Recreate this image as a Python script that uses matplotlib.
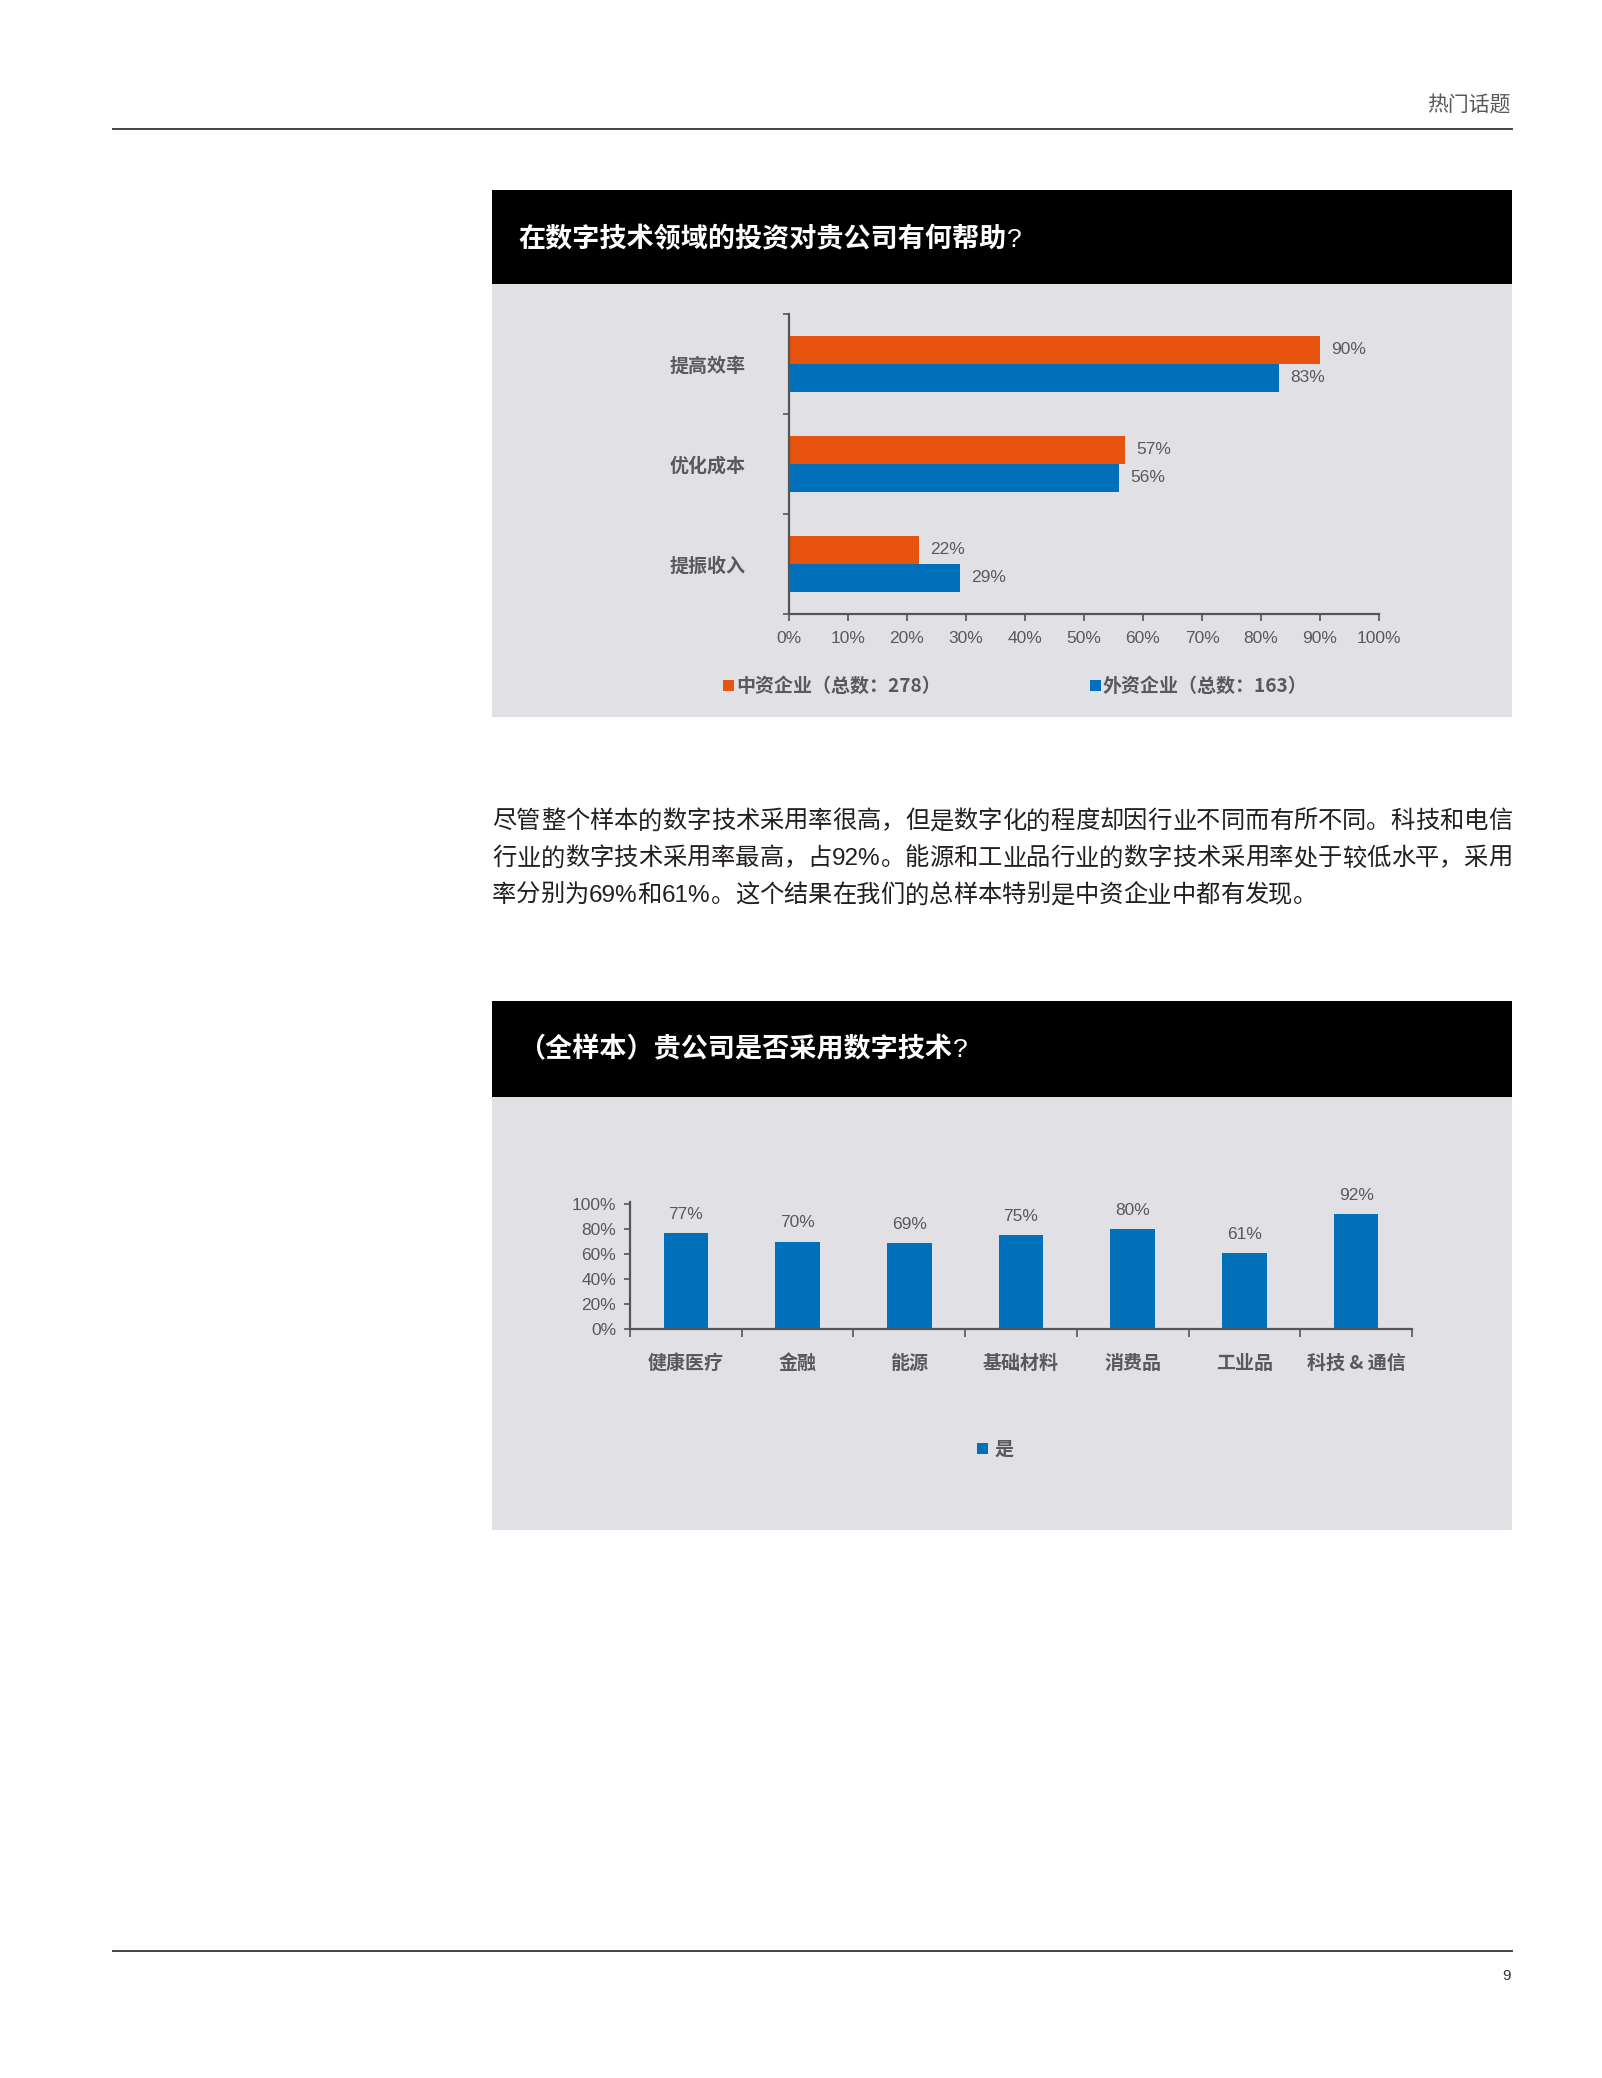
import re
import numpy as np
import matplotlib
matplotlib.use("Agg")
import matplotlib.pyplot as plt
from matplotlib.patches import Rectangle
from matplotlib import font_manager as fm

# chart 1: how digital investment helps
cats1 = ["提高效率", "优化成本", "提振收入"]
cn_vals = [90, 57, 22]
fx_vals = [83, 56, 29]
cn_label = "中资企业（总数：278）"
fx_label = "外资企业（总数：163）"
xticks1 = [0, 10, 20, 30, 40, 50, 60, 70, 80, 90, 100]

# chart 2: adoption by industry
cats2 = ["健康医疗", "金融", "能源", "基础材料", "消费品", "工业品", "科技 & 通信"]
adopt = [77, 70, 69, 75, 80, 61, 92]
yticks2 = [0, 20, 40, 60, 80, 100]

title1 = "在数字技术领域的投资对贵公司有何帮助"
title2 = "（全样本）贵公司是否采用数字技术"
body = ["尽管整个样本的数字技术采用率很高，但是数字化的程度却因行业不同而有所不同。科技和电信",
        "行业的数字技术采用率最高，占92%。能源和工业品行业的数字技术采用率处于较低水平，采用",
        "率分别为69%和61%。这个结果在我们的总样本特别是中资企业中都有发现。"]

names = {f.name for f in fm.fontManager.ttflist}
num_font = "Liberation Sans Narrow" if "Liberation Sans Narrow" in names else "Liberation Sans"
cjk = ["Noto Sans CJK SC", "DejaVu Sans"]
num_fam = [num_font, "Noto Sans CJK SC", "DejaVu Sans"]
body_fam = ["Liberation Sans", "Noto Sans CJK SC", "DejaVu Sans"]
plt.rcParams["font.family"] = cjk

ORANGE = "#e8530e"
BLUE = "#0070ba"
BG = "#e1e1e5"
GRAY = "#58595b"
AXC = "#555555"

W, H = 1602, 2078
fig = plt.figure(figsize=(W / 100, H / 100), dpi=100)
renderer = fig.canvas.get_renderer()


def fx(x):
    return x / W


def fy(y):
    return 1 - y / H


def rect(x0, y0, x1, y1, color):
    fig.add_artist(Rectangle((fx(x0), fy(y1)), (x1 - x0) / W, (y1 - y0) / H,
                             transform=fig.transFigure, facecolor=color,
                             edgecolor="none", zorder=-5))


def axes_px(x0, y0, x1, y1):
    ax = fig.add_axes([fx(x0), fy(y1), (x1 - x0) / W, (y1 - y0) / H])
    ax.set_facecolor("none")
    return ax


def title(x, y, s):
    t = fig.text(fx(x), fy(y), s, color="white", fontsize=19.5, fontweight="bold", va="center")
    w = t.get_window_extent(renderer).width
    fig.text(fx(x + w + 1), fy(y + 1), "?", color="white", fontsize=19, va="center",
             family=num_fam)


# page header / footer
fig.text(fx(1511), fy(106), "热门话题", ha="right", va="center", fontsize=15, color=GRAY)
fig.add_artist(plt.Line2D([fx(113), fx(1512)], [fy(129), fy(129)], color="#444444", lw=1.4))
fig.add_artist(plt.Line2D([fx(113), fx(1512)], [fy(1951), fy(1951)], color="#444444", lw=1.4))
fig.text(fx(1511), fy(1976), "9", ha="right", va="center", fontsize=11, color="#333333",
         family=body_fam)

# ---- chart 1 ----
rect(492, 190, 1512, 284, "black")
rect(492, 284, 1512, 717, BG)
title(518, 239, title1)

ax1 = axes_px(789, 314, 1379, 614)
y = np.arange(len(cats1))
h = 0.28
b1 = ax1.barh(y - h / 2, cn_vals, height=h, color=ORANGE)
b2 = ax1.barh(y + h / 2, fx_vals, height=h, color=BLUE)
for bars, vals in ((b1, cn_vals), (b2, fx_vals)):
    for bar, v in zip(bars, vals):
        ax1.annotate(f"{v}%", (v, bar.get_y() + bar.get_height() / 2), xytext=(8, 0),
                     textcoords="offset points", va="center", ha="left",
                     fontsize=12.5, color=GRAY, family=num_fam)
ax1.set_xlim(0, 100)
ax1.set_ylim(2.5, -0.5)
ax1.set_xticks(xticks1)
ax1.set_xticklabels([f"{t}%" for t in xticks1], fontsize=12.5, color=GRAY, family=num_fam)
ax1.set_yticks(y)
ax1.set_yticklabels(cats1, fontsize=13.7, fontweight="bold", color=GRAY)
ax1.set_yticks([-0.5, 0.5, 1.5, 2.5], minor=True)
ax1.tick_params(axis="y", which="major", length=0, pad=31)
ax1.tick_params(axis="y", which="minor", length=4, color=AXC, width=1.2)
ax1.tick_params(axis="x", length=5, color=AXC, width=1.2, pad=7)
for s in ("top", "right"):
    ax1.spines[s].set_visible(False)
for s in ("left", "bottom"):
    ax1.spines[s].set_color(AXC)
    ax1.spines[s].set_linewidth(1.6)

# legend 1
rect(723, 680, 734, 691, ORANGE)
fig.text(fx(736), fy(686), cn_label, fontsize=13.7, fontweight="bold", color=GRAY, va="center")
rect(1090, 680, 1101, 691, BLUE)
fig.text(fx(1103), fy(686), fx_label, fontsize=13.7, fontweight="bold", color=GRAY, va="center")

# ---- body text ----
line_y = [822, 859, 896]
for i, (line, yy) in enumerate(zip(body, line_y)):
    toks = re.findall(r"[A-Za-z0-9%.]+|.", line)
    txts = [fig.text(0, fy(yy), t, fontsize=17.5, family=body_fam, va="center", color="#231f20")
            for t in toks]
    widths = [t.get_window_extent(renderer).width for t in txts]
    last = i == len(body) - 1
    gap = 0 if last else (1512 - 492 - sum(widths)) / (len(toks) - 1)
    xx = 492
    for t, w in zip(txts, widths):
        t.set_x(fx(xx))
        xx += w + gap

# ---- chart 2 ----
rect(492, 1001, 1512, 1097, "black")
rect(492, 1097, 1512, 1530, BG)
title(518, 1049, title2)

ax2 = axes_px(630, 1204, 1412, 1329)
x = np.arange(len(cats2))
bars = ax2.bar(x, adopt, width=0.4, color=BLUE)
for bar, v in zip(bars, adopt):
    ax2.annotate(f"{v}%", (bar.get_x() + bar.get_width() / 2, v), xytext=(0, 8),
                 textcoords="offset points", ha="center", va="bottom",
                 fontsize=12.5, color=GRAY, family=num_fam, annotation_clip=False)
ax2.set_xlim(-0.5, len(cats2) - 0.5)
ax2.set_ylim(0, 100)
ax2.set_yticks(yticks2)
ax2.set_yticklabels([f"{t}%" for t in yticks2], fontsize=12.5, color=GRAY, family=num_fam)
ax2.tick_params(axis="y", length=4, color=AXC, width=1.2, pad=6)
ax2.set_xticks(x)
ax2.set_xticklabels(cats2, fontsize=13.7, fontweight="bold", color=GRAY)
ax2.set_xticks(np.arange(-0.5, len(cats2)), minor=True)
ax2.tick_params(axis="x", which="major", length=0, pad=18)
ax2.tick_params(axis="x", which="minor", length=6, color=AXC, width=1.2)
for s in ("top", "right"):
    ax2.spines[s].set_visible(False)
for s in ("left", "bottom"):
    ax2.spines[s].set_color(AXC)
    ax2.spines[s].set_linewidth(1.6)
ax2.spines["left"].set_bounds(0, 102)

# legend 2
rect(977, 1443, 988, 1454, BLUE)
fig.text(fx(995), fy(1449), "是", fontsize=13.7, fontweight="bold", color=GRAY, va="center")

fig.savefig("out.png", dpi=100, facecolor="white")
